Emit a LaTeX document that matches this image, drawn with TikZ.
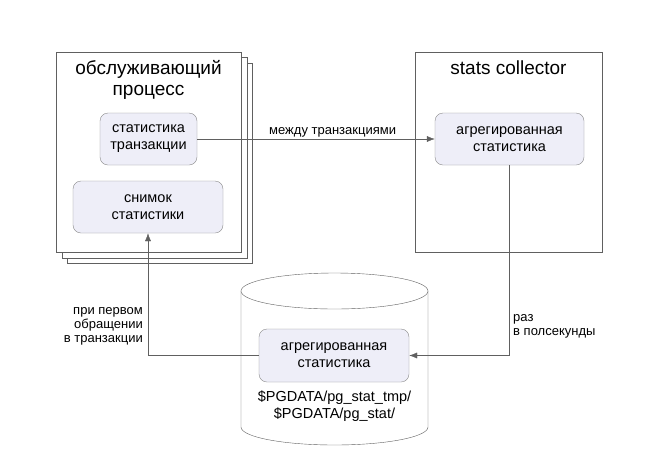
\documentclass[tikz,border=0pt]{standalone}
\usepackage{fontspec}
\setmainfont{Liberation Sans}
\usetikzlibrary{arrows.meta}
\definecolor{boxfill}{HTML}{EEEEF8}
\definecolor{boxline}{HTML}{8A8A8A}
\definecolor{frameline}{HTML}{606060}
\tikzset{
  inbox/.style={draw=boxline, fill=boxfill, rounded corners=8pt, align=center,
    font=\fontsize{14.5}{17}\selectfont, inner sep=0pt},
  frame/.style={draw=frameline, fill=white},
  lbl/.style={font=\fontsize{13}{14}\selectfont, inner sep=0pt},
  link/.style={draw=frameline, -{Latex[length=8pt,width=6pt]}}
}
\begin{document}
\begin{tikzpicture}[x=1pt, y=-1pt]
  \useasboundingbox (0,0) rectangle (664,456);
  % обслуживающий процесс (stack of three)
  \draw[frame] (67,63) rectangle (252,263);
  \draw[frame] (62,57) rectangle (247,258);
  \draw[frame] (56,52) rectangle (241,252);
  \node[align=center, font=\fontsize{19}{21}\selectfont] (P) at (148.5,80) {обслуживающий\\процесс};
  \node[inbox, minimum width=97pt, minimum height=52pt] (T) at (148.5,139) {статистика\\транзакции};
  \node[inbox, minimum width=150pt, minimum height=52pt] (N) at (148,207) {снимок\\статистики};
  % stats collector
  \draw[frame] (415,52) rectangle (602,252);
  \node[font=\fontsize{19}{21}\selectfont] (S) at (508.5,68) {stats collector};
  \node[inbox, minimum width=149pt, minimum height=52pt] (A) at (509.5,139) {агрегированная\\статистика};
  % cylinder
  \draw[frame] (241,291) -- (241,427) arc[start angle=180, end angle=0, x radius=93.5, y radius=18]
    -- (428,291);
  \draw[frame] (334.5,291) ellipse[x radius=93.5, y radius=18];
  \node[inbox, minimum width=150pt, minimum height=53pt] (D) at (334,355.5) {агрегированная\\статистика};
  \node[align=center, font=\fontsize{14.5}{17}\selectfont] (F) at (334.5,406) {\$PGDATA/pg\_stat\_tmp/\\\$PGDATA/pg\_stat/};
  % connectors
  \draw[link] (T) -- (A) node[pos=0.57, above=2pt, lbl] (m) {между транзакциями};
  \draw[link] (A.south) |- (D.east) coordinate[pos=0.5] (r);
  \node[lbl, align=left, anchor=north west] (R) at (513,314) {раз\\в полсекунды};
  \draw[link] (D.west) -| (N.south) coordinate[pos=0.5] (l);
  \node[lbl, align=right, anchor=north east] (L) at (143,307) {при первом\\обращении\\в транзакции};
\end{tikzpicture}
\end{document}
